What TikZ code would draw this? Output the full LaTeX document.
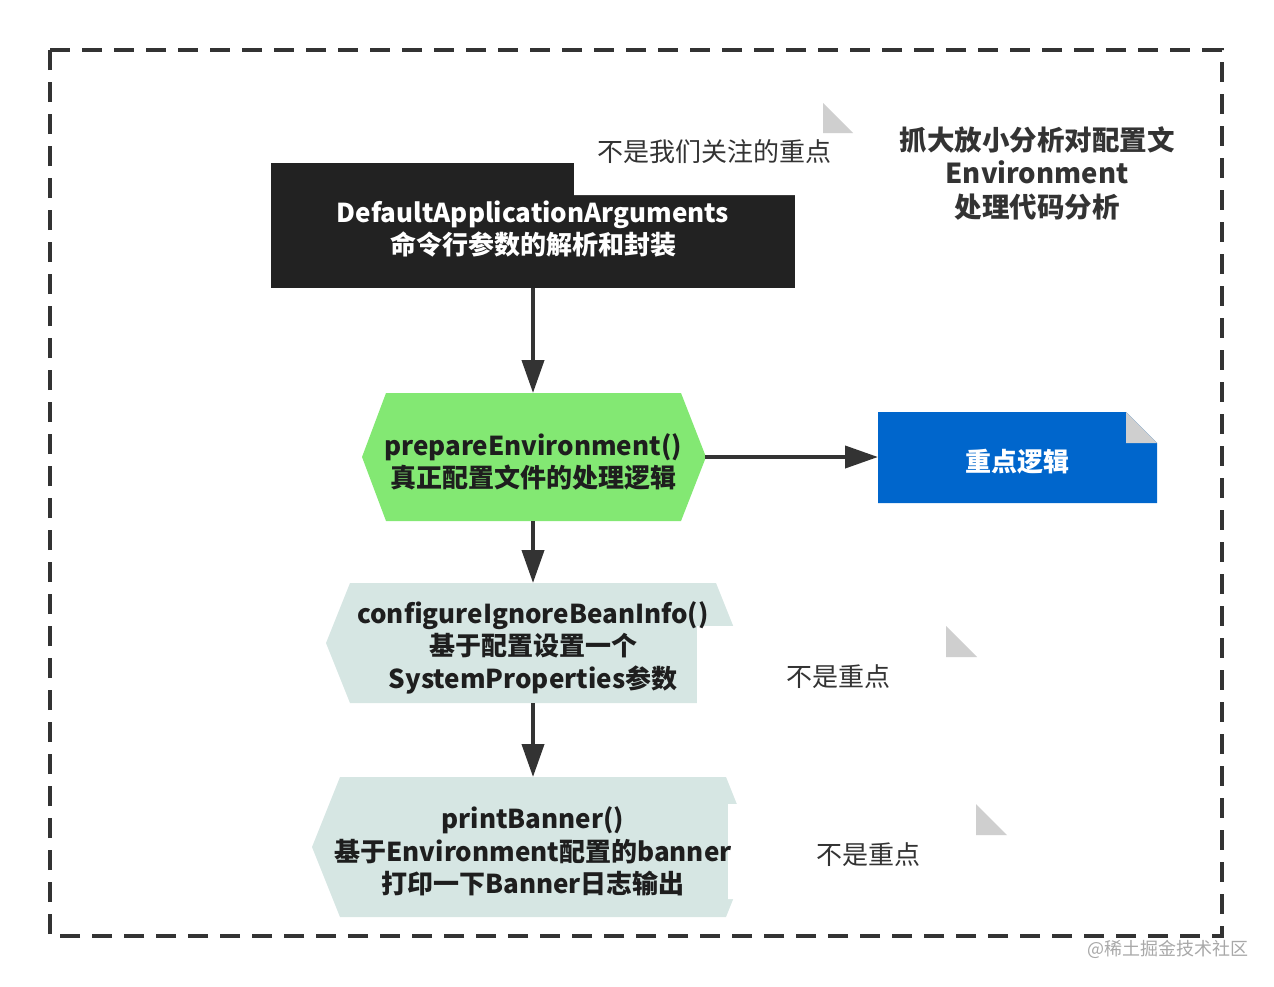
\documentclass[tikz,border=0pt]{standalone}
\usepackage{fontspec}
\setmainfont{Noto Sans CJK SC}
\usetikzlibrary{arrows.meta,calc}
\definecolor{dk}{HTML}{333333}
\definecolor{txt}{HTML}{1E1E1E}
\definecolor{blk}{HTML}{222222}
\definecolor{grn}{HTML}{83E873}
\definecolor{tealg}{HTML}{D6E6E3}
\definecolor{blu}{HTML}{0066CC}
\definecolor{fold}{HTML}{CFCFCF}
\definecolor{wm}{HTML}{A8A8A8}
\begin{document}
\begin{tikzpicture}[x=1pt,y=-1pt,
  shapebox/.style={inner sep=0pt, outer sep=0pt},
  box/.style={inner sep=0pt, align=center, text=txt, yshift=-4.5pt,
    font=\fontsize{26}{32}\selectfont\bfseries},
  notetext/.style={inner sep=0pt, text=dk, font=\fontsize{26}{32}\selectfont},
  flow/.style={draw=dk, line width=4pt, -{Triangle[length=33pt,width=22pt]}},
  foldc/.style={fill=fold},
]
\useasboundingbox (0,0) rectangle (1274,986);
% outer dashed frame
\draw[dk, line width=3.3pt, dash pattern=on 20pt off 12pt] (50,50) -- (1222,50) -- (1222,936) -- (50,936) -- cycle;

% process shapes
\fill[blk] (271,163) rectangle (795,288);
\fill[grn] (362,457) -- (386,393) -- (681,393) -- (706,457) -- (681,521) -- (386,521) -- cycle;
\fill[tealg] (326,643) -- (350,583) -- (716,583) -- (740,643) -- (716,703) -- (350,703) -- cycle;
\fill[tealg] (312,847) -- (340,777) -- (726,777) -- (754,847) -- (726,917) -- (340,917) -- cycle;
\fill[blu] (878,412) -- (1126,412) -- (1157,443) -- (1157,503) -- (878,503) -- cycle;
\fill[foldc] (1126,412) -- (1126,443) -- (1157,443) -- cycle;

% notes (white, overlapping)
\fill[white] (574,103) -- (823,103) -- (853,133) -- (853,195) -- (574,195) -- cycle;
\fill[foldc] (823,103) -- (823,133) -- (853,133) -- cycle;
\fill[white] (697,626) -- (946,626) -- (977,657) -- (977,728) -- (697,728) -- cycle;
\fill[foldc] (946,626) -- (946,657) -- (977,657) -- cycle;
\fill[white] (728,804) -- (976,804) -- (1007,835) -- (1007,899) -- (728,899) -- cycle;
\fill[foldc] (976,804) -- (976,835) -- (1007,835) -- cycle;

% shape anchor nodes
\node[shapebox, minimum width=524pt, minimum height=125pt] (args) at (533,225.5) {};
\node[shapebox, minimum width=344pt, minimum height=128pt] (prep) at (533,457) {};
\node[shapebox, minimum width=414pt, minimum height=120pt] (conf) at (533,643) {};
\node[shapebox, minimum width=442pt, minimum height=140pt] (banner) at (533,847) {};
\node[shapebox, minimum width=279pt, minimum height=91pt] (key) at (1017.5,457.5) {};

% texts
\node[box, text=white] (args-t) at (533,224.5)
  {DefaultApplicationArguments\\命令行参数的解析和封装};
\node[box] (prep-t) at (prep)
  {prepareEnvironment()\\真正配置文件的处理逻辑};
\node[box, font=\fontsize{26}{32.5}\selectfont\bfseries] (conf-t) at (conf)
  {configureIgnoreBeanInfo()\\基于配置设置一个\\SystemProperties参数};
\node[box, font=\fontsize{26}{32.5}\selectfont\bfseries] (banner-t) at (banner)
  {printBanner()\\基于Environment配置的banner\\打印一下Banner日志输出};
\node[box, text=white] (key-t) at (1017.5,457) {重点逻辑};

\node[notetext] (n1) at (714,152) {不是我们关注的重点};
\node[notetext] (n2) at (838,677) {不是重点};
\node[notetext] (n3) at (868,855) {不是重点};

\node[inner sep=0pt, align=center, text=dk, font=\fontsize{27.5}{33.5}\selectfont\bfseries] (title) at (1037,173)
  {抓大放小分析对配置文\\Environment\\处理代码分析};
\node[inner sep=0pt, text=wm, font=\fontsize{18}{20}\selectfont] (wmk) at (1168,949) {@稀土掘金技术社区};

% connectors
\draw[flow] (args.south) -- (prep.north);
\draw[flow] (prep.south) -- (conf.north);
\draw[flow] (conf.south) -- (banner.north);
\draw[flow] (prep.east) -- (prep.east -| key.west);
\end{tikzpicture}
\end{document}
